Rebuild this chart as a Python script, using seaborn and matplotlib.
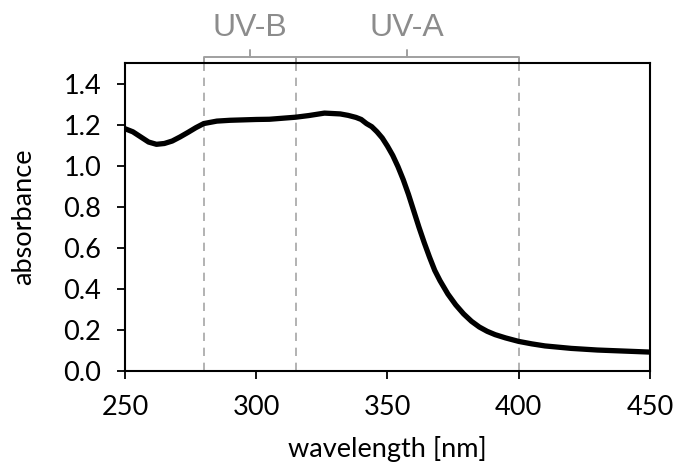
import numpy as np
import pandas as pd
import matplotlib
matplotlib.use("Agg")
import matplotlib.pyplot as plt
import matplotlib.transforms as mtransforms
import seaborn as sns

wavelength = [250, 253, 256, 259, 262, 265, 268, 271, 274, 277, 280, 285, 290,
              295, 300, 305, 310, 315, 320, 323, 326, 329, 332, 335, 338, 340,
              342, 344, 346, 348, 350, 352, 354, 356, 358, 360, 362, 364, 366,
              368, 370, 373, 376, 379, 382, 385, 388, 391, 395, 400, 405, 410,
              420, 430, 440, 450]
absorbance = [1.18, 1.165, 1.14, 1.115, 1.104, 1.108, 1.12, 1.14, 1.162, 1.185,
              1.205, 1.217, 1.221, 1.223, 1.225, 1.226, 1.231, 1.236, 1.244,
              1.25, 1.256, 1.254, 1.252, 1.245, 1.235, 1.225, 1.205, 1.19,
              1.165, 1.135, 1.095, 1.05, 0.995, 0.932, 0.86, 0.78, 0.70, 0.625,
              0.555, 0.49, 0.44, 0.375, 0.322, 0.278, 0.242, 0.214, 0.193,
              0.177, 0.161, 0.144, 0.132, 0.122, 0.11, 0.102, 0.097, 0.092]

band_names = ["UV-B", "UV-A"]
band_start = [280, 315]
band_end = [315, 400]
boundaries = [280, 315, 400]

x_ticks = [250, 300, 350, 400, 450]
y_ticks = [0.0, 0.2, 0.4, 0.6, 0.8, 1.0, 1.2, 1.4]

sns.set_theme(style="white")
plt.rcParams['font.family'] = ['Lato', 'DejaVu Sans']

df = pd.DataFrame({"wavelength": wavelength, "absorbance": absorbance})

fig = plt.figure(figsize=(6.73, 4.65), dpi=100)
ax = fig.add_axes([0.1857, 0.2022, 0.7801, 0.6623])

for b in boundaries:
    ax.axvline(b, color="#a6a6a6", lw=1.2, ls=(0, (5, 4)), zorder=1)

sns.lineplot(data=df, x="wavelength", y="absorbance", ax=ax, color="black",
             lw=3.8, solid_capstyle="butt", solid_joinstyle="round", zorder=3)

ax.set_xlim(250, 450)
ax.set_ylim(0, 1.5)
ax.set_xticks(x_ticks)
ax.set_xticklabels([str(v) for v in x_ticks])
ax.set_yticks(y_ticks)
ax.set_yticklabels([f"{v:.1f}" for v in y_ticks])

for s in ax.spines.values():
    s.set_color("black")
    s.set_linewidth(1.5)

ax.tick_params(axis="both", which="major", direction="out", length=6, width=1.3,
               color="black", labelsize=19.5, labelcolor="black", bottom=True, left=True)
ax.tick_params(axis="y", pad=11)
ax.tick_params(axis="x", pad=11)

ax.set_xlabel("wavelength [nm]", fontsize=19.5, color="black", labelpad=12)
ax.set_ylabel("absorbance", fontsize=19.5, color="black", labelpad=20)

trans = mtransforms.blended_transform_factory(ax.transData, ax.transAxes)
gray = "#a0a0a0"
for name, s, e in zip(band_names, band_start, band_end):
    ax.plot([s, s, e, e], [1.0, 1.02, 1.02, 1.0], color=gray, lw=1.4,
            transform=trans, clip_on=False, solid_joinstyle="round")
    mid = (s + e) / 2
    ax.plot([mid, mid], [1.02, 1.042], color=gray, lw=1.4, transform=trans,
            clip_on=False)
    ax.text(mid, 1.115, name, transform=trans, ha="center", va="center",
            fontsize=23, color="#8c8c8c", family=["Liberation Sans", "DejaVu Sans"])

fig.savefig("out.png", dpi=100)
